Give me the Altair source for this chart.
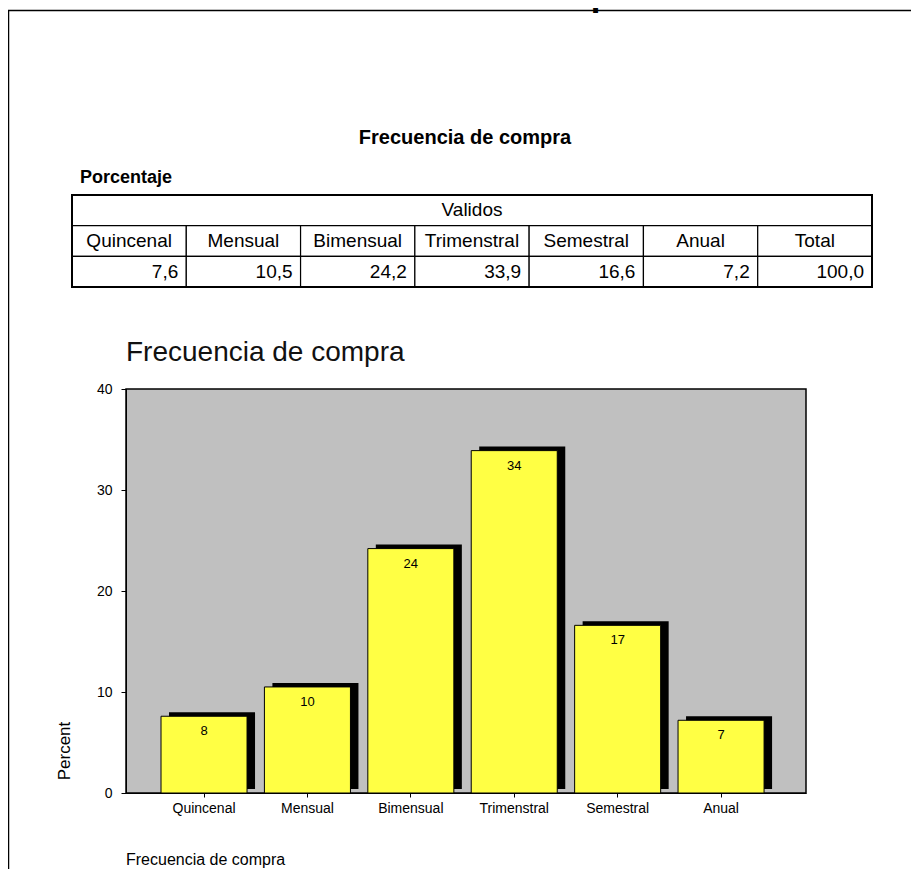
import altair as alt
import pandas as pd

# ---------------- data ----------------
categories = ["Quincenal", "Mensual", "Bimensual", "Trimenstral", "Semestral", "Anual"]
percent = [7.6, 10.5, 24.2, 33.9, 16.6, 7.2]
total_label = "Total"
y_ticks = [0, 10, 20, 30, 40]

page_title = "Frecuencia de compra"
table_title = "Frecuencia de compra"
table_caption = "Porcentaje"
table_group = "Validos"
chart_title = "Frecuencia de compra"
x_title = "Frecuencia de compra"
y_title = "Percent"

FONT = "Liberation Sans"


def fmt_es(v):
    return f"{v:.1f}".replace(".", ",")


# ---------------- bar chart ----------------
bars_df = pd.DataFrame({
    "cat": categories,
    "pct": percent,
    "lab": [str(round(v)) for v in percent],
})

xb = alt.X(
    "cat:N", sort=categories,
    scale=alt.Scale(paddingInner=0.168, paddingOuter=0.372, align=0.455),
    axis=alt.Axis(orient="bottom", title=None, labelAngle=0, labelFont=FONT,
                  labelFontSize=14, labelColor="black", tickColor="black",
                  tickSize=4, domainColor="black", labelPadding=4, grid=False),
)
yb = alt.Y(
    "pct:Q",
    scale=alt.Scale(domain=[0, 40], nice=False),
    axis=alt.Axis(orient="left", values=y_ticks, title=None, grid=False,
                  tickSize=5, labelPadding=9, labelFont=FONT, labelFontSize=14,
                  labelColor="black", tickColor="black", domainColor="black"),
)
base = alt.Chart(bars_df).encode(x=xb, y=yb)
shadow = base.mark_bar(color="black", xOffset=8, yOffset=-4)
bars = base.mark_bar(color="#FFFF44", stroke="black", strokeWidth=1)
bar_labels = base.mark_text(dy=15, baseline="middle", font=FONT, fontSize=13,
                            color="black").encode(text="lab:N")
bar_group = alt.layer(shadow, bars, bar_labels)

# ---------------- table ----------------
cols = categories + [total_label]
col_vals = percent + [round(sum(percent), 1)]
n = len(cols)

cells = [{"x0": 0, "x1": n, "r0": 0, "r1": 1}]
for i in range(n):
    cells.append({"x0": i, "x1": i + 1, "r0": 1, "r1": 2})
    cells.append({"x0": i, "x1": i + 1, "r0": 2, "r1": 3})
cells_df = pd.DataFrame(cells)
outer_df = pd.DataFrame([{"x0": 0, "x1": n, "r0": 0, "r1": 3}])
head_df = pd.DataFrame({
    "xc": [i + 0.5 for i in range(n)] + [n / 2],
    "rc": [1.5] * n + [0.5],
    "t": cols + [table_group],
})
val_df = pd.DataFrame({
    "xr": [i + 1 for i in range(n)],
    "rc": [2.5] * n,
    "t": [fmt_es(v) for v in col_vals],
})

tx = alt.Scale(domain=[0, n], range=[-54, 746], nice=False, zero=False)
ty = alt.Scale(domain=[0, 3], range=[-194, -102], nice=False, zero=False)

cell_layer = alt.Chart(cells_df).mark_rect(fill="white", stroke="black", strokeWidth=1.2).encode(
    x=alt.X("x0:Q", scale=tx, axis=None), x2="x1",
    y=alt.Y("r0:Q", scale=ty, axis=None), y2="r1")
outer_layer = alt.Chart(outer_df).mark_rect(fillOpacity=0, stroke="black", strokeWidth=2).encode(
    x=alt.X("x0:Q", scale=tx, axis=None), x2="x1",
    y=alt.Y("r0:Q", scale=ty, axis=None), y2="r1")
head_layer = alt.Chart(head_df).mark_text(font=FONT, fontSize=19, align="center",
                                          baseline="middle", color="black").encode(
    x=alt.X("xc:Q", scale=tx, axis=None),
    y=alt.Y("rc:Q", scale=ty, axis=None), text="t:N")
val_layer = alt.Chart(val_df).mark_text(font=FONT, fontSize=19, align="right", dx=-8,
                                        baseline="middle", color="black").encode(
    x=alt.X("xr:Q", scale=tx, axis=None),
    y=alt.Y("rc:Q", scale=ty, axis=None), text="t:N")
table = alt.layer(cell_layer, outer_layer, head_layer, val_layer)


# ---------------- free text ----------------
def label(txt, x, y, **kw):
    return alt.Chart(pd.DataFrame({"t": [txt]})).mark_text(**kw).encode(
        text="t:N", x=alt.value(x), y=alt.value(y))


border = alt.Chart(pd.DataFrame({"a": [0]})).mark_rect(
    fillOpacity=0, stroke="black", strokeWidth=1.5).encode(
    x=alt.value(-117.5), x2=alt.value(830), y=alt.value(-378.5), y2=alt.value(600))

page_t = label(page_title, 344, -382, font="DejaVu Sans", fontSize=28, fontWeight="bold",
               align="center", baseline="alphabetic", color="black")
table_t = label(table_title, 339, -251, font=FONT, fontSize=20, fontWeight="bold",
                align="center", baseline="middle", color="black")
porc_t = label(table_caption, -46, -211, font=FONT, fontSize=18, fontWeight="bold",
               align="left", baseline="middle", color="black")
chart_t = label(chart_title, 0, -36, font=FONT, fontSize=28, align="left",
                baseline="middle", color="#111111")
percent_t = label(y_title, -61, 362, font=FONT, fontSize=17, angle=270,
                  align="center", baseline="middle", color="black")
xtitle_t = label(x_title, 0, 471, font=FONT, fontSize=16, align="left",
                 baseline="middle", color="black")

chart = alt.layer(
    border, page_t, table_t, porc_t, table, chart_t, percent_t, xtitle_t, bar_group
).resolve_scale(
    x="independent", y="independent"
).properties(
    width=680, height=404,
    autosize=alt.AutoSizeParams(type="none"),
    padding={"left": 118, "top": 381, "right": 105, "bottom": 76},
).configure_view(
    fill="#C0C0C0", stroke="black", strokeWidth=1.5
)

chart.save("out.html", embed_options={"renderer": "svg", "actions": False})
